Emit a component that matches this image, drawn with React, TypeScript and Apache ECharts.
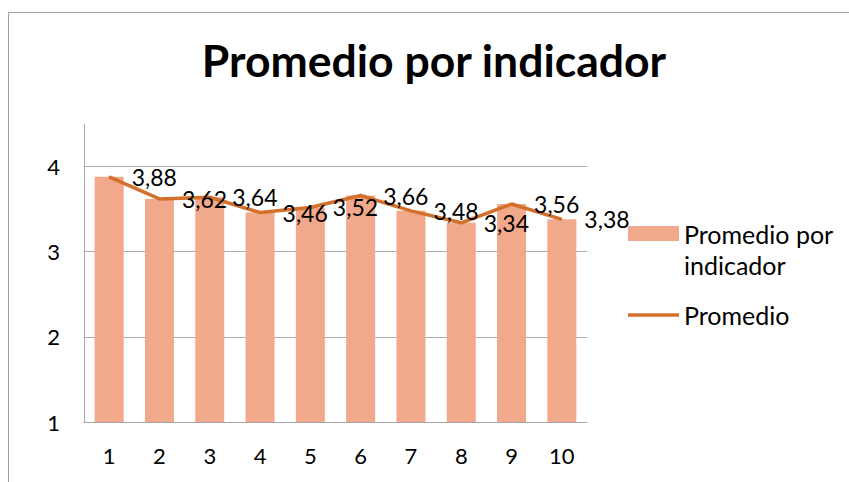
import React, { useEffect, useRef } from "react";
import * as echarts from "echarts";

const titleText = "Promedio por indicador";
const categories = ["1", "2", "3", "4", "5", "6", "7", "8", "9", "10"];
const barName = "Promedio por indicador";
const lineName = "Promedio";
const barValues = [3.88, 3.62, 3.64, 3.46, 3.52, 3.66, 3.48, 3.34, 3.56, 3.38];
const lineValues = [3.88, 3.62, 3.64, 3.46, 3.52, 3.66, 3.48, 3.34, 3.56, 3.38];
const yMin = 1;
const yMax = 4.5;
const yInterval = 1;

const FONT = "Lato";
const LINE_COLOR = "#D2702C";
const BAR_COLOR = "#F2A88A";

export default function App() {
  const ref = useRef<HTMLDivElement>(null);
  useEffect(() => {
    if (!ref.current) return;
    const chart = echarts.init(ref.current, undefined, { renderer: "svg" });
    chart.setOption({
      animation: false,
      backgroundColor: "#ffffff",
      title: {
        text: titleText,
        left: 434,
        textAlign: "center",
        top: 37,
        padding: 0,
        textStyle: { fontFamily: FONT, fontWeight: "bold", fontSize: 44.5, color: "#000" },
      },
      graphic: [
        {
          type: "rect",
          shape: { x: 8.5, y: 12.5, width: 900, height: 600 },
          style: { fill: "none", stroke: "#a0a0a0", lineWidth: 1 },
          silent: true,
        },
      ],
      grid: { left: 84, right: 262, top: 124, bottom: 60, containLabel: false },
      xAxis: {
        type: "category",
        data: categories,
        axisLine: { show: true, lineStyle: { color: "#a6a6a6", width: 1 } },
        axisTick: { show: false },
        axisLabel: { fontFamily: FONT, fontSize: 22, color: "#000", margin: 22 },
        splitLine: { show: false },
      },
      yAxis: {
        type: "value",
        min: yMin,
        max: yMax,
        interval: yInterval,
        axisLine: { show: true, lineStyle: { color: "#a6a6a6", width: 1 } },
        axisTick: { show: false },
        axisLabel: { fontFamily: FONT, fontSize: 22, color: "#000", margin: 24, showMaxLabel: false },
        splitLine: { show: true, showMaxLine: false, showMinLine: false, lineStyle: { color: "#ababab", width: 1 } },
      },
      legend: [
        {
          orient: "vertical",
          left: 628,
          top: 190,
          padding: 0,
          itemWidth: 51,
          itemHeight: 15,
          itemGap: 0,
          icon: "rect",
          textStyle: {
            fontFamily: FONT,
            fontSize: 25,
            color: "#000",
            rich: {
              sp: { fontFamily: FONT, fontSize: 25, lineHeight: 31, color: "#000" },
              a: { fontFamily: FONT, fontSize: 25, lineHeight: 31, color: "#000" },
            },
          },
          formatter: () => "{sp| }\n{a|Promedio por}\n{a|indicador}",
          data: [{ name: barName }],
        },
        {
          orient: "vertical",
          left: 628,
          top: 300,
          padding: 0,
          itemWidth: 51,
          itemHeight: 3.5,
          icon: "rect",
          textStyle: { fontFamily: FONT, fontSize: 25, color: "#000", lineHeight: 30 },
          data: [{ name: lineName }],
        },
      ],
      series: [
        {
          name: barName,
          type: "bar",
          data: barValues,
          barWidth: 29,
          itemStyle: { color: BAR_COLOR },
        },
        {
          name: lineName,
          type: "line",
          data: lineValues,
          symbol: "circle",
          symbolSize: 1,
          showSymbol: true,
          lineStyle: { color: LINE_COLOR, width: 3.5 },
          itemStyle: { color: LINE_COLOR },
          label: {
            show: true,
            position: "right",
            distance: 22,
            fontFamily: FONT,
            fontSize: 23,
            color: "#000",
            formatter: (p: any) => Number(p.value).toFixed(2).replace(".", ","),
          },
          z: 3,
        },
      ],
    });
    return () => chart.dispose();
  }, []);
  return (
    <div
      ref={ref}
      style={{ position: "absolute", left: 0, top: 0, width: 849, height: 482 }}
    />
  );
}
